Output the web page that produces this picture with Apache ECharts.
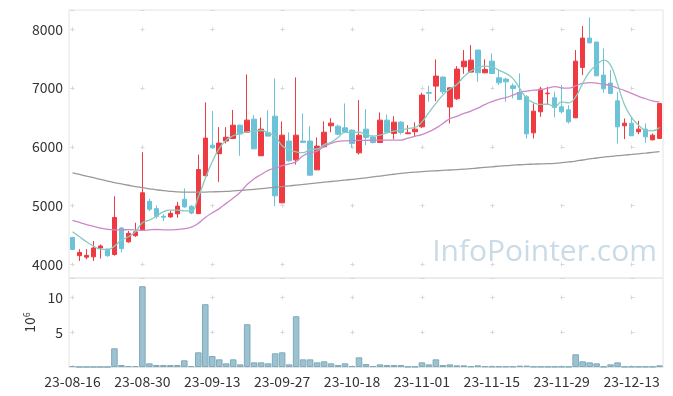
<!DOCTYPE html>
<html><head><meta charset="utf-8">
<script src="https://cdn.jsdelivr.net/npm/echarts@6/dist/echarts.min.js"></script>
<style>html,body{margin:0;padding:0;background:#fff}#c{width:673px;height:396px}</style>
</head><body><div id="c"></div>
<script>
const dates = ['23-08-16','23-08-17','23-08-18','23-08-21','23-08-22','23-08-23','23-08-24','23-08-25','23-08-28','23-08-29',
'23-08-30','23-08-31','23-09-01','23-09-04','23-09-05','23-09-06','23-09-07','23-09-08','23-09-11','23-09-12',
'23-09-13','23-09-14','23-09-15','23-09-18','23-09-19','23-09-20','23-09-21','23-09-22','23-09-25','23-09-26',
'23-09-27','23-10-04','23-10-05','23-10-06','23-10-10','23-10-11','23-10-12','23-10-13','23-10-16','23-10-17',
'23-10-18','23-10-19','23-10-20','23-10-23','23-10-24','23-10-25','23-10-26','23-10-27','23-10-30','23-10-31',
'23-11-01','23-11-02','23-11-03','23-11-06','23-11-07','23-11-08','23-11-09','23-11-10','23-11-13','23-11-14',
'23-11-15','23-11-16','23-11-17','23-11-20','23-11-21','23-11-22','23-11-23','23-11-24','23-11-27','23-11-28',
'23-11-29','23-11-30','23-12-01','23-12-04','23-12-05','23-12-06','23-12-07','23-12-08','23-12-11','23-12-12',
'23-12-13','23-12-14','23-12-15','23-12-18','23-12-19'];

const openP  = [4460,4150,4125,4130,4280,4260,4170,4620,4385,4490,4585,5075,4950,4820,4810,4862,5110,4990,4865,5510,
6030,5885,6100,6145,6370,6252,6473,5850,6240,6524,5049,6100,5780,6100,6100,5610,6002,6360,6354,6325,
6286,5900,6303,6167,6077,6456,6230,6422,6225,6258,6342,6925,7035,7188,6680,6820,7364,7273,7648,7261,
7460,7176,7154,7040,6928,6853,6240,6598,6905,6836,6683,6632,6496,7353,7852,7784,7222,7086,6785,6360,
6405,6258,6303,6121,6145];
const closeP = [4256,4205,4155,4280,4315,4150,4800,4270,4530,4555,5220,4940,4820,4805,4870,4993,4980,4875,5615,6150,
5985,6065,6165,6370,6220,6456,5968,6303,6184,5168,6201,5765,6200,6077,5520,6014,6252,6405,6218,6252,
6060,6201,6162,6077,6456,6252,6422,6247,6240,6303,6882,6915,7205,6938,7006,7324,7460,7477,7261,7319,
7250,7091,7108,6996,6809,6223,6609,6984,6915,6672,6598,6427,7460,7852,7772,7210,6989,6911,6342,6405,
6190,6303,6172,6201,6740];
const lowP   = [4250,4060,4090,4060,4100,4130,4150,4205,4370,4470,4570,4910,4780,4740,4795,4795,4965,4855,4862,5508,
5968,5406,6060,6133,5850,6240,5960,5845,6180,4993,5045,5750,5700,6070,5510,5605,5990,6250,6201,6240,
5990,5872,6031,6060,6070,6235,6128,6210,6218,6167,6320,6768,6780,6900,6400,6797,7245,7270,7108,7255,
7240,7052,6768,6826,6797,6145,6145,6513,6711,6502,6570,6400,6490,7222,7760,7205,6921,6905,6060,6133,
6185,6218,6070,6110,6140];
const highP  = [4470,4260,4260,4400,4340,4270,5160,4640,4570,4710,5910,5120,5005,4860,4910,5065,5295,5010,5870,6757,
6610,6337,6337,6630,6380,7234,6540,6500,6626,7166,6435,6247,7183,6570,6354,6162,6435,6490,6380,6740,
6300,6797,6643,6200,6587,6553,6524,6440,6370,6417,6920,7040,7490,7200,7010,7375,7648,7733,7648,7490,
7590,7312,7176,7080,7250,6882,6740,7023,7023,6938,7052,6711,7648,8056,8204,7790,7676,7307,6938,6485,
6513,6444,6400,6230,6745];

const volume = [0.14,0.01,0.01,0.01,0.01,0.01,2.69,0.29,0.14,0.14,11.62,0.53,0.29,0.29,0.29,0.29,0.96,0.14,2.11,9.03,
1.58,1.10,0.53,1.10,0.38,6.15,0.67,0.67,0.53,1.97,2.11,0.38,7.30,1.10,1.10,0.67,0.82,0.53,0.29,0.53,
0.14,1.39,0.43,0.14,0.38,0.29,0.29,0.29,0.05,0.05,0.67,0.38,1.10,0.29,0.38,0.24,0.24,0.10,0.24,0.10,
0.08,0.08,0.08,0.08,0.20,0.20,0.05,0.05,0.05,0.05,0.05,0.05,1.83,0.82,0.67,0.53,0.05,0.38,0.67,0.05,
0.05,0.05,0.05,0.05,0.24];

const ma5 = [4556,4471,4386,4313,4262,4256,4313,4415,4471,4556,4709,4754,4822,4896,4924,4924,4913,4913,5150,5464,
5747,5974,6116,6190,6230,6258,6270,6280,6240,6180,6020,5950,5917,5903,5957,5965,6040,6080,6162,6247,
6247,6250,6213,6184,6201,6240,6269,6286,6314,6331,6427,6587,6740,6882,6984,7064,7193,7290,7347,7375,
7364,7307,7251,7166,6996,6826,6751,6723,6729,6683,6768,6751,6853,7081,7279,7392,7477,7392,7069,6712,
6502,6371,6286,6275,6331];
const ma20 = [4750,4715,4680,4650,4620,4598,4590,4590,4592,4590,4580,4590,4595,4590,4588,4595,4610,4635,4700,4800,
4880,4950,5040,5130,5230,5360,5460,5530,5600,5640,5680,5710,5750,5850,5900,5930,6010,6060,6095,6104,
6108,6110,6112,6115,6115,6115,6115,6116,6150,6180,6210,6260,6320,6400,6480,6520,6570,6610,6660,6720,
6770,6810,6840,6880,6930,6950,6965,6975,7000,7025,7005,7000,7040,7080,7095,7085,7065,7045,7000,6960,
6910,6860,6820,6785,6765];
const maLong = [5560,5532,5504,5476,5448,5420,5392,5370,5348,5326,5306,5288,5270,5255,5244,5236,5232,5230,5230,5232,
5236,5240,5245,5252,5260,5268,5278,5290,5302,5314,5326,5338,5350,5362,5375,5388,5400,5412,5424,5436,
5448,5460,5475,5490,5505,5520,5535,5550,5562,5572,5580,5588,5595,5602,5608,5614,5622,5632,5642,5652,
5662,5672,5682,5690,5697,5703,5708,5712,5716,5722,5732,5745,5760,5778,5796,5812,5828,5840,5852,5862,
5872,5883,5895,5908,5922];

const priceMin = 3770, priceMax = 8330;
const volMax = 12.8;

const candles = dates.map((d, i) => [openP[i], closeP[i], lowP[i], highP[i]]);
const FONT = '"Noto Sans CJK KR", "Noto Sans", sans-serif';
const crossCol = '#d8d8d8';
const plain = v => String(v);
const chart = echarts.init(document.getElementById('c'));
chart.setOption({
  animation: false,
  textStyle: { fontFamily: FONT },
  grid: [
    { left: 69, top: 10, width: 594, height: 268, show: true, borderColor: '#e4e4e4', borderWidth: 1 },
    { left: 69, top: 278, width: 594, height: 89, show: true, borderColor: '#e4e4e4', borderWidth: 1 }
  ],
  xAxis: [
    { type: 'category', gridIndex: 0, data: dates, boundaryGap: true,
      axisLine: { show: false }, axisTick: { show: false }, axisLabel: { show: false },
      splitLine: { show: true, interval: 9, alignWithLabel: true,
        lineStyle: { color: crossCol, width: 1, type: [4, 54.77], dashOffset: 41.37 } } },
    { type: 'category', gridIndex: 1, data: dates, boundaryGap: true,
      axisLine: { show: true, lineStyle: { color: '#e4e4e4' } }, axisTick: { show: false },
      axisLabel: { interval: 9, fontSize: 14, color: '#333', margin: 8, fontFamily: FONT },
      splitLine: { show: true, interval: 9, alignWithLabel: true,
        lineStyle: { color: crossCol, width: 1, type: [4, 30.77], dashOffset: 17.27 } } }
  ],
  yAxis: [
    { type: 'value', gridIndex: 0, min: priceMin, max: priceMax,
      axisLine: { show: false }, axisTick: { show: false },
      axisLabel: { fontSize: 14, color: '#333', margin: 6, showMinLabel: false, showMaxLabel: false, fontFamily: FONT, formatter: plain },
      splitLine: { show: true, lineStyle: { color: crossCol, width: 1, type: [4, 66], dashOffset: 68.5 } } },
    { type: 'value', gridIndex: 1, min: 0, max: volMax, interval: 5,
      name: '10{s|6}', nameLocation: 'middle', nameRotate: 90, nameGap: 30,
      nameTextStyle: { fontSize: 14, color: '#333', fontFamily: FONT,
        rich: { s: { fontSize: 9, color: '#333', verticalAlign: 'top', padding: [0, 0, 6, 0] } } },
      axisLine: { show: false }, axisTick: { show: false },
      axisLabel: { fontSize: 14, color: '#333', margin: 6, showMinLabel: false, showMaxLabel: false, fontFamily: FONT, formatter: plain },
      splitLine: { show: true, lineStyle: { color: crossCol, width: 1, type: [4, 66], dashOffset: 68.5 } } }
  ],
  graphic: [{
    type: 'text', right: 16, top: 237, silent: true, z: 0,
    style: { text: 'InfoPointer.com', fill: '#c9dbe6', font: '30px "Open Sans", sans-serif' }
  }],
  series: [
    { type: 'candlestick', xAxisIndex: 0, yAxisIndex: 0, data: candles, barWidth: 5,
      itemStyle: { color: '#ee3a40', color0: '#6cc2d7', borderColor: '#ee3a40', borderColor0: '#6cc2d7', borderWidth: 1 } },
    { type: 'line', xAxisIndex: 0, yAxisIndex: 0, data: maLong, smooth: true, showSymbol: false, z: 3,
      lineStyle: { color: '#999999', width: 1.3 } },
    { type: 'line', xAxisIndex: 0, yAxisIndex: 0, data: ma20, smooth: true, showSymbol: false, z: 3,
      lineStyle: { color: '#cc88c8', width: 1.3 } },
    { type: 'line', xAxisIndex: 0, yAxisIndex: 0, data: ma5, smooth: true, showSymbol: false, z: 3,
      lineStyle: { color: '#86cbc0', width: 1.3 } },
    { type: 'bar', xAxisIndex: 1, yAxisIndex: 1, data: volume, barCategoryGap: '6%',
      itemStyle: { color: '#9cc2d1', borderColor: '#7faabb', borderWidth: 1 } }
  ]
});
</script></body></html>
